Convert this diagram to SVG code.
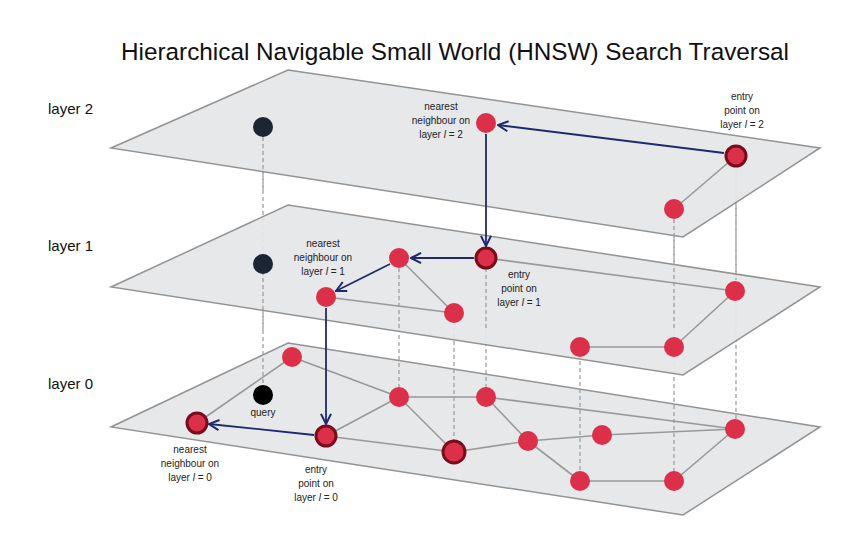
<svg xmlns="http://www.w3.org/2000/svg" width="854" height="560" viewBox="0 0 854 560">
<defs>
<style>
.plane{fill:#e6e7e9;stroke:#8a8a8a;stroke-width:1.5;opacity:0.92}
.e{stroke:#999;stroke-width:1.6}
.d{stroke:#999;stroke-width:1.2;stroke-dasharray:4 3}
.a{stroke:#1f2a6e;stroke-width:1.8;fill:none;marker-end:url(#ah)}
.n{fill:#dc2f4a}
.t{fill:#dc2f4a;stroke:#7a0c1a;stroke-width:3}
.k{fill:#1c2533}
.q{fill:#000}
.lb{font-family:"Liberation Sans",Arial,sans-serif;font-size:10px;fill:#222;text-anchor:middle}
.ly{font-family:"Liberation Sans",Arial,sans-serif;font-size:15px;fill:#111}
</style>
<marker id="ah" viewBox="0 0 10 10" refX="9" refY="5" markerWidth="7" markerHeight="7" orient="auto"><path d="M1,1 L9,5 L1,9" fill="none" stroke="#1f2a6e" stroke-width="1.6"/></marker>
</defs>
<rect width="854" height="560" fill="#fff"/>
<text x="455" y="60" text-anchor="middle" font-family="Liberation Sans,Arial,sans-serif" font-size="24.3" fill="#111">Hierarchical Navigable Small World (HNSW) Search Traversal</text>
<text class="ly" x="48" y="114">layer 2</text>
<text class="ly" x="48" y="251">layer 1</text>
<text class="ly" x="48" y="389">layer 0</text>

<g id="layer0"><polygon class="plane" points="288,343 820,427 683,515 111,427"/></g>
<g id="layer0-edges">
<line class="e" x1="292" y1="357" x2="197" y2="423"/><line class="e" x1="292" y1="357" x2="399" y2="397"/>
<line class="e" x1="326" y1="436" x2="399" y2="397"/><line class="e" x1="326" y1="436" x2="454" y2="452"/>
<line class="e" x1="399" y1="397" x2="454" y2="452"/><line class="e" x1="399" y1="397" x2="486" y2="397"/>
<line class="e" x1="486" y1="397" x2="735" y2="429"/><line class="e" x1="486" y1="397" x2="528" y2="441"/>
<line class="e" x1="454" y1="452" x2="528" y2="441"/><line class="e" x1="528" y1="441" x2="602" y2="435"/>
<line class="e" x1="602" y1="435" x2="735" y2="429"/><line class="e" x1="528" y1="441" x2="580" y2="481"/>
<line class="e" x1="580" y1="481" x2="674" y2="481"/><line class="e" x1="674" y1="481" x2="735" y2="429"/>
</g>
<g id="connectors-dashed">
<line class="d" x1="263" y1="127" x2="263" y2="388"/><line class="d" x1="399" y1="258" x2="399" y2="397"/>
<line class="d" x1="486" y1="258" x2="486" y2="397"/><line class="d" x1="454" y1="313" x2="454" y2="452"/>
<line class="d" x1="674" y1="209" x2="674" y2="481"/><line class="d" x1="736" y1="156" x2="736" y2="429"/>
<line class="d" x1="580" y1="347" x2="580" y2="481"/>
</g>
<g id="layer0-nodes">
<circle class="n" cx="292" cy="357" r="10"/><circle class="q" cx="263" cy="395" r="10"/>
<circle class="t" cx="197" cy="423" r="10"/><circle class="t" cx="326" cy="436" r="10"/>
<circle class="n" cx="399" cy="397" r="10"/><circle class="n" cx="486" cy="397" r="10"/>
<circle class="t" cx="454" cy="452" r="11"/><circle class="n" cx="528" cy="441" r="10"/>
<circle class="n" cx="602" cy="435" r="10"/><circle class="n" cx="735" cy="429" r="10"/>
<circle class="n" cx="580" cy="481" r="10"/><circle class="n" cx="674" cy="481" r="10"/>
</g>

<g id="layer1"><polygon class="plane" points="288,205 820,287 683,375 111,287"/></g>
<g id="layer1-edges">
<line class="e" x1="399" y1="258" x2="454" y2="313"/><line class="e" x1="326" y1="297" x2="454" y2="313"/>
<line class="e" x1="486" y1="258" x2="735" y2="291"/><line class="e" x1="580" y1="347" x2="674" y2="347"/>
<line class="e" x1="674" y1="347" x2="735" y2="291"/>
<line class="d" x1="263" y1="264" x2="263" y2="330"/><line class="d" x1="399" y1="268" x2="399" y2="330"/>
<line class="d" x1="486" y1="268" x2="486" y2="330"/><line class="d" x1="674" y1="219" x2="674" y2="330"/><line class="d" x1="736" y1="166" x2="736" y2="280"/>
</g>
<g id="layer1-nodes">
<circle class="k" cx="263" cy="264" r="10"/><circle class="n" cx="399" cy="258" r="10"/>
<circle class="t" cx="486" cy="258" r="10"/><circle class="n" cx="326" cy="297" r="10"/>
<circle class="n" cx="454" cy="313" r="10"/><circle class="n" cx="735" cy="291" r="10"/>
<circle class="n" cx="580" cy="347" r="10"/><circle class="n" cx="674" cy="347" r="10"/>
</g>

<g id="layer2"><polygon class="plane" points="288,70 820,148 683,237 111,148"/></g>
<g id="layer2-content">
<line class="e" x1="736" y1="156" x2="674" y2="209"/>
<line class="d" x1="263" y1="137" x2="263" y2="190"/><line class="d" x1="674" y1="219" x2="674" y2="235"/>
<circle class="k" cx="263" cy="127" r="10"/><circle class="n" cx="486" cy="123" r="10"/>
<circle class="t" cx="736" cy="156" r="10"/><circle class="n" cx="674" cy="209" r="10"/>
</g>

<g id="connectors">
<line class="a" x1="724" y1="153" x2="498" y2="125"/>
<line class="a" x1="486" y1="134" x2="486" y2="246"/>
<line class="a" x1="474" y1="258" x2="411" y2="258"/>
<line class="a" x1="390" y1="264" x2="336" y2="291"/>
<line class="a" x1="326" y1="308" x2="326" y2="424"/>
<line class="a" x1="314" y1="435" x2="209" y2="424"/>
</g>

<g id="labels">
<text class="lb" x="441" y="110">nearest</text><text class="lb" x="441" y="124">neighbour on</text><text class="lb" x="441" y="138">layer <tspan font-style="italic">l</tspan> = 2</text>
<text class="lb" x="742" y="100">entry</text><text class="lb" x="742" y="114">point on</text><text class="lb" x="742" y="128">layer <tspan font-style="italic">l</tspan> = 2</text>
<text class="lb" x="323" y="247">nearest</text><text class="lb" x="323" y="261">neighbour on</text><text class="lb" x="323" y="275">layer <tspan font-style="italic">l</tspan> = 1</text>
<text class="lb" x="519" y="278">entry</text><text class="lb" x="519" y="292">point on</text><text class="lb" x="519" y="306">layer <tspan font-style="italic">l</tspan> = 1</text>
<text class="lb" x="263" y="416">query</text>
<text class="lb" x="190" y="453">nearest</text><text class="lb" x="190" y="467">neighbour on</text><text class="lb" x="190" y="481">layer <tspan font-style="italic">l</tspan> = 0</text>
<text class="lb" x="316" y="473">entry</text><text class="lb" x="316" y="487">point on</text><text class="lb" x="316" y="501">layer <tspan font-style="italic">l</tspan> = 0</text>
</g>
</svg>
